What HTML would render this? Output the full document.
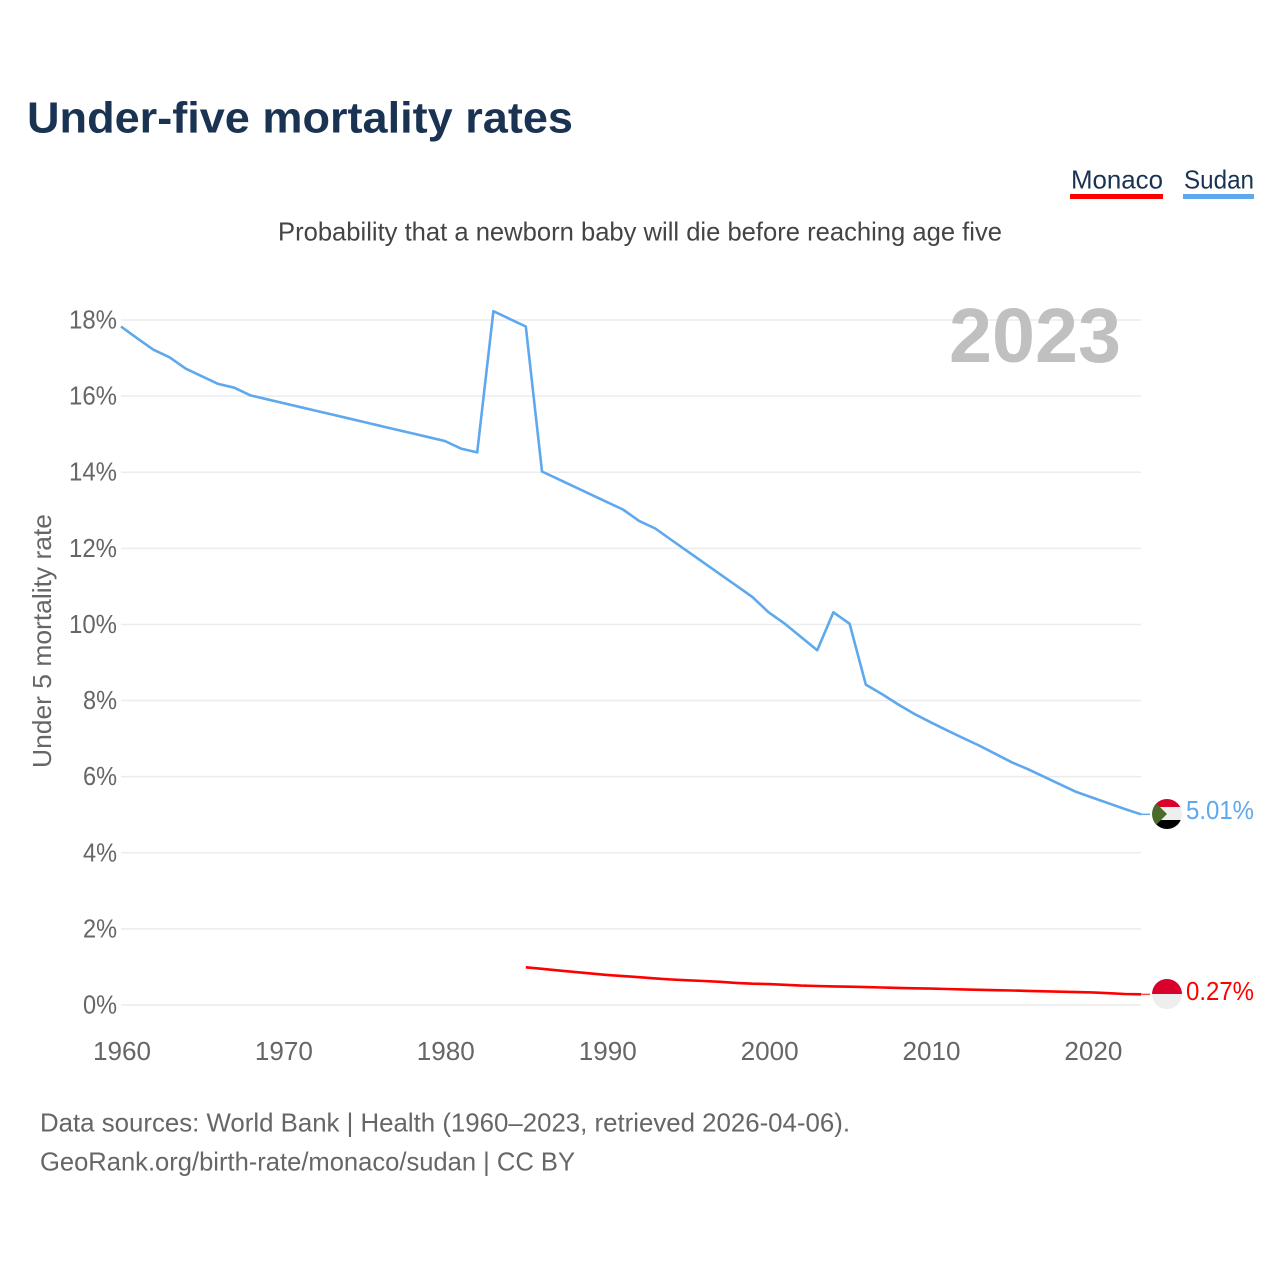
<!DOCTYPE html>
<html lang="en">
<head>
<meta charset="utf-8">
<title>Under-five mortality rates</title>
<style>
html,body{margin:0;padding:0;background:#fff;}
svg{display:block;font-family:"Liberation Sans",sans-serif;}
</style>
</head>
<body>
<svg id="chart" xmlns="http://www.w3.org/2000/svg" width="1280" height="1280" viewBox="0 0 1280 1280">
  <defs>
    <clipPath id="clip-sudan"><circle cx="1167" cy="814" r="15"/></clipPath>
    <clipPath id="clip-monaco"><circle cx="1167" cy="994" r="15"/></clipPath>
  </defs>
  <rect x="0" y="0" width="1280" height="1280" fill="#fff"/>
  <text x="27" y="132.5" font-size="44" font-weight="700" fill="#1a3353" textLength="546" lengthAdjust="spacingAndGlyphs">Under-five mortality rates</text>
  <text x="278" y="240.5" font-size="26" fill="#444" textLength="724" lengthAdjust="spacingAndGlyphs">Probability that a newborn baby will die before reaching age five</text>

  <g>
    <text x="1071" y="188.5" font-size="26" fill="#1a3353" textLength="92" lengthAdjust="spacingAndGlyphs">Monaco</text>
    <rect x="1070" y="194" width="93" height="5" fill="#ff0000"/>
    <text x="1184" y="188.5" font-size="26" fill="#1a3353" textLength="70" lengthAdjust="spacingAndGlyphs">Sudan</text>
    <rect x="1183" y="194" width="71" height="5" fill="#5ea8ee"/>
  </g>

  <text transform="translate(51,768) rotate(-90)" x="0" y="0" font-size="26" fill="#666" textLength="254" lengthAdjust="spacingAndGlyphs">Under 5 mortality rate</text>

  <g id="grid"></g>
  <g id="y-ticks"></g>
  <g id="x-ticks"></g>

  <text x="949" y="362" font-size="77" font-weight="700" fill="#c0c0c0" textLength="172" lengthAdjust="spacingAndGlyphs">2023</text>

  <path id="line-sudan" fill="none" stroke="#5ea8ee" stroke-width="2.6" stroke-linejoin="round"/>
  <path id="line-monaco" fill="none" stroke="#ff0000" stroke-width="2.6" stroke-linejoin="round"/>
  <line id="stub-sudan" x2="1150" stroke="#5ea8ee" stroke-width="1.5"/>
  <line id="stub-monaco" x2="1150" stroke="#ff0000" stroke-opacity="0.7" stroke-width="1.5"/>

  <g clip-path="url(#clip-sudan)">
    <rect x="1152" y="799" width="30" height="9" fill="#d9002c"/>
    <rect x="1152" y="807" width="30" height="13" fill="#eeeeee"/>
    <rect x="1152" y="820" width="30" height="10" fill="#000000"/>
    <polygon points="1152,799 1167,814 1152,829" fill="#4a6b2a"/>
  </g>
  <text id="label-sudan" x="1186" y="819" font-size="26" fill="#5ea8ee" textLength="68" lengthAdjust="spacingAndGlyphs"></text>

  <g clip-path="url(#clip-monaco)">
    <rect x="1152" y="979" width="30" height="15" fill="#d9002c"/>
    <rect x="1152" y="994" width="30" height="15" fill="#eeeeee"/>
  </g>
  <text id="label-monaco" x="1186" y="1000" font-size="26" fill="#ff0000" textLength="68" lengthAdjust="spacingAndGlyphs"></text>

  <text x="40" y="1131.5" font-size="26" fill="#666" textLength="810" lengthAdjust="spacingAndGlyphs">Data sources: World Bank | Health (1960–2023, retrieved 2026-04-06).</text>
  <text x="40" y="1170.5" font-size="26" fill="#666" textLength="535" lengthAdjust="spacingAndGlyphs">GeoRank.org/birth-rate/monaco/sudan | CC BY</text>
</svg>
<script>
var sudanStartYear = 1960;
var sudanValues = [17.83,17.52,17.22,17.02,16.72,16.52,16.32,16.22,16.02,15.92,15.82,15.72,15.62,15.52,15.42,15.32,15.22,15.12,15.02,14.92,14.82,14.62,14.52,18.23,18.03,17.83,14.02,13.82,13.62,13.42,13.22,13.02,12.72,12.52,12.22,11.92,11.62,11.32,11.02,10.72,10.32,10.02,9.67,9.32,10.32,10.02,8.42,8.17,7.9,7.65,7.43,7.22,7.02,6.82,6.6,6.38,6.2,6.0,5.8,5.6,5.45,5.3,5.15,5.01];
var monacoStartYear = 1985;
var monacoValues = [0.99,0.95,0.91,0.87,0.83,0.79,0.76,0.73,0.70,0.67,0.65,0.63,0.61,0.58,0.56,0.55,0.53,0.51,0.50,0.49,0.48,0.47,0.46,0.45,0.44,0.43,0.42,0.41,0.40,0.39,0.38,0.37,0.36,0.35,0.34,0.33,0.31,0.29,0.28];
var yTickValues = [0,2,4,6,8,10,12,14,16,18];
var yTickLabels = ["0%","2%","4%","6%","8%","10%","12%","14%","16%","18%"];
var xTickValues = [1960,1970,1980,1990,2000,2010,2020];
var xTickLabels = ["1960","1970","1980","1990","2000","2010","2020"];
var sudanLabel = "5.01%";
var monacoLabel = "0.27%";

var SVGNS = "http://www.w3.org/2000/svg";
function xScale(year){ return 121 + (year - 1960) * (1141 - 121) / 63; }
function yScale(v){ return 1005 - v * (1005 - 320) / 18; }

function linePath(startYear, values){
  var d = "";
  for (var i = 0; i < values.length; i++){
    d += (i ? "L" : "M") + xScale(startYear + i).toFixed(1) + " " + yScale(values[i]).toFixed(1);
  }
  return d;
}

var grid = document.getElementById("grid");
var yTicks = document.getElementById("y-ticks");
var xTicks = document.getElementById("x-ticks");

yTickValues.forEach(function(v, i){
  var ln = document.createElementNS(SVGNS, "line");
  
  
  ln.setAttribute("x1", 121);
  ln.setAttribute("x2", 1141);
  ln.setAttribute("y1", yScale(v));
  ln.setAttribute("y2", yScale(v));
  ln.setAttribute("stroke", "#ececec");
  ln.setAttribute("stroke-width", "1.5");
  grid.appendChild(ln);

  var t = document.createElementNS(SVGNS, "text");
  
  
  var w = yTickLabels[i].length === 3 ? 48 : 34;
  t.setAttribute("x", 117 - w);
  t.setAttribute("y", yScale(v) + 8.5);
  t.setAttribute("font-size", "26");
  t.setAttribute("fill", "#666");
  t.setAttribute("textLength", w);
  t.setAttribute("lengthAdjust", "spacingAndGlyphs");
  t.textContent = yTickLabels[i];
  yTicks.appendChild(t);
});

xTickValues.forEach(function(v, i){
  var t = document.createElementNS(SVGNS, "text");
  
  
  t.setAttribute("x", xScale(v) - 28);
  t.setAttribute("y", 1060);
  t.setAttribute("font-size", "26");
  t.setAttribute("fill", "#666");
  t.setAttribute("textLength", 58);
  t.setAttribute("lengthAdjust", "spacingAndGlyphs");
  t.textContent = xTickLabels[i];
  xTicks.appendChild(t);
});

document.getElementById("line-sudan").setAttribute("d", linePath(sudanStartYear, sudanValues));
document.getElementById("line-monaco").setAttribute("d", linePath(monacoStartYear, monacoValues));

var sudanEnd = yScale(sudanValues[sudanValues.length - 1]);
var monacoEnd = yScale(monacoValues[monacoValues.length - 1]);
var stubS = document.getElementById("stub-sudan");
stubS.setAttribute("x1", xScale(2023));
stubS.setAttribute("y1", sudanEnd);
stubS.setAttribute("y2", sudanEnd);
var stubM = document.getElementById("stub-monaco");
stubM.setAttribute("x1", xScale(2023));
stubM.setAttribute("y1", monacoEnd);
stubM.setAttribute("y2", monacoEnd);
document.getElementById("label-sudan").textContent = sudanLabel;
document.getElementById("label-monaco").textContent = monacoLabel;
</script>
</body>
</html>
